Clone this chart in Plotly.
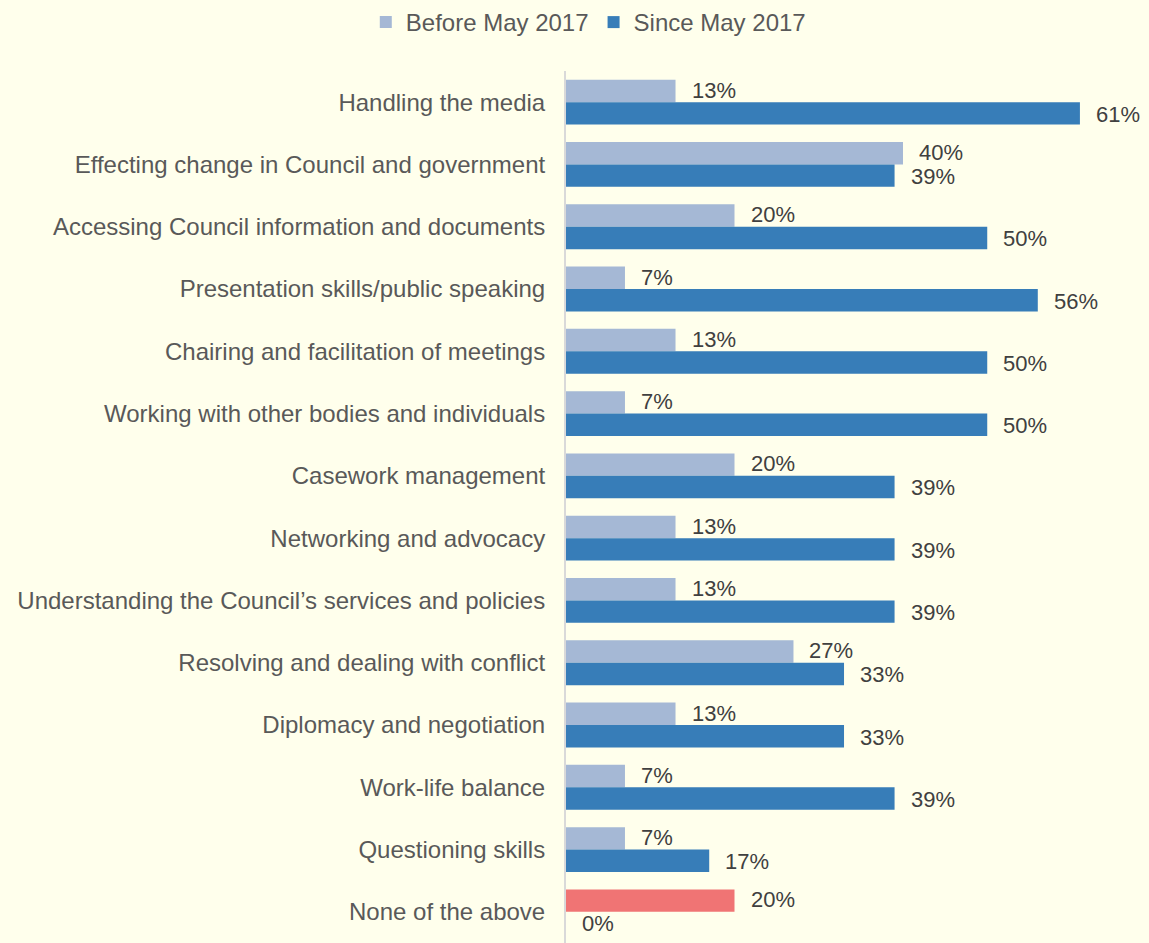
import plotly.graph_objects as go

categories = [
    "Handling the media",
    "Effecting change in Council and government",
    "Accessing Council information and documents",
    "Presentation skills/public speaking",
    "Chairing and facilitation of meetings",
    "Working with other bodies and individuals",
    "Casework management",
    "Networking and advocacy",
    "Understanding the Council’s services and policies",
    "Resolving and dealing with conflict",
    "Diplomacy and negotiation",
    "Work-life balance",
    "Questioning skills",
    "None of the above",
]
before_may_2017 = [13, 40, 20, 7, 13, 7, 20, 13, 13, 27, 13, 7, 7, 20]
since_may_2017 = [61, 39, 50, 56, 50, 50, 39, 39, 39, 33, 33, 39, 17, 0]

BEFORE_COLOR = "#A5B8D5"
SINCE_COLOR = "#377DB8"
NONE_COLOR = "#F07474"
BG = "#FFFFEC"
FONT = "Liberation Sans, Arial, sans-serif"

before_colors = [NONE_COLOR if c == "None of the above" else BEFORE_COLOR for c in categories]

fig = go.Figure()
fig.add_trace(go.Bar(
    y=categories, x=before_may_2017, orientation="h", name="Before May 2017",
    marker=dict(color=before_colors, line=dict(width=0)),
))
fig.add_trace(go.Bar(
    y=categories, x=since_may_2017, orientation="h", name="Since May 2017",
    marker=dict(color=SINCE_COLOR, line=dict(width=0)),
))

# Value labels next to each bar
annotations = []
for cat, b, s in zip(categories, before_may_2017, since_may_2017):
    for val, dy in ((b, 12), (s, -12)):
        annotations.append(dict(
            x=val, y=cat, xref="x", yref="y", text=f"{val}%",
            showarrow=False, xanchor="left", yanchor="middle",
            xshift=14, yshift=dy,
            font=dict(family=FONT, size=22, color="#404040"),
        ))

fig.update_layout(
    width=1149, height=943,
    margin=dict(l=566, r=0, t=71, b=0),
    paper_bgcolor=BG, plot_bgcolor=BG,
    barmode="group", bargap=0.28, bargroupgap=0,
    font=dict(family=FONT, size=24, color="#595959"),
    showlegend=True,
    legend=dict(
        orientation="h", x=0.512, xref="container", xanchor="center",
        y=1.0, yref="container", yanchor="top",
        font=dict(family=FONT, size=24, color="#595959"),
        itemwidth=30, tracegroupgap=0, bgcolor="rgba(0,0,0,0)",
    ),
    annotations=annotations,
)
fig.update_xaxes(range=[0, 69.2], visible=False, showgrid=False, zeroline=False)
fig.update_yaxes(
    autorange="reversed", showgrid=False, zeroline=False,
    showline=True, linecolor="#D9D9D9", linewidth=2,
    ticks="", ticklabelstandoff=14,
    tickfont=dict(family=FONT, size=24, color="#595959"),
)

fig.write_html("out.html")
